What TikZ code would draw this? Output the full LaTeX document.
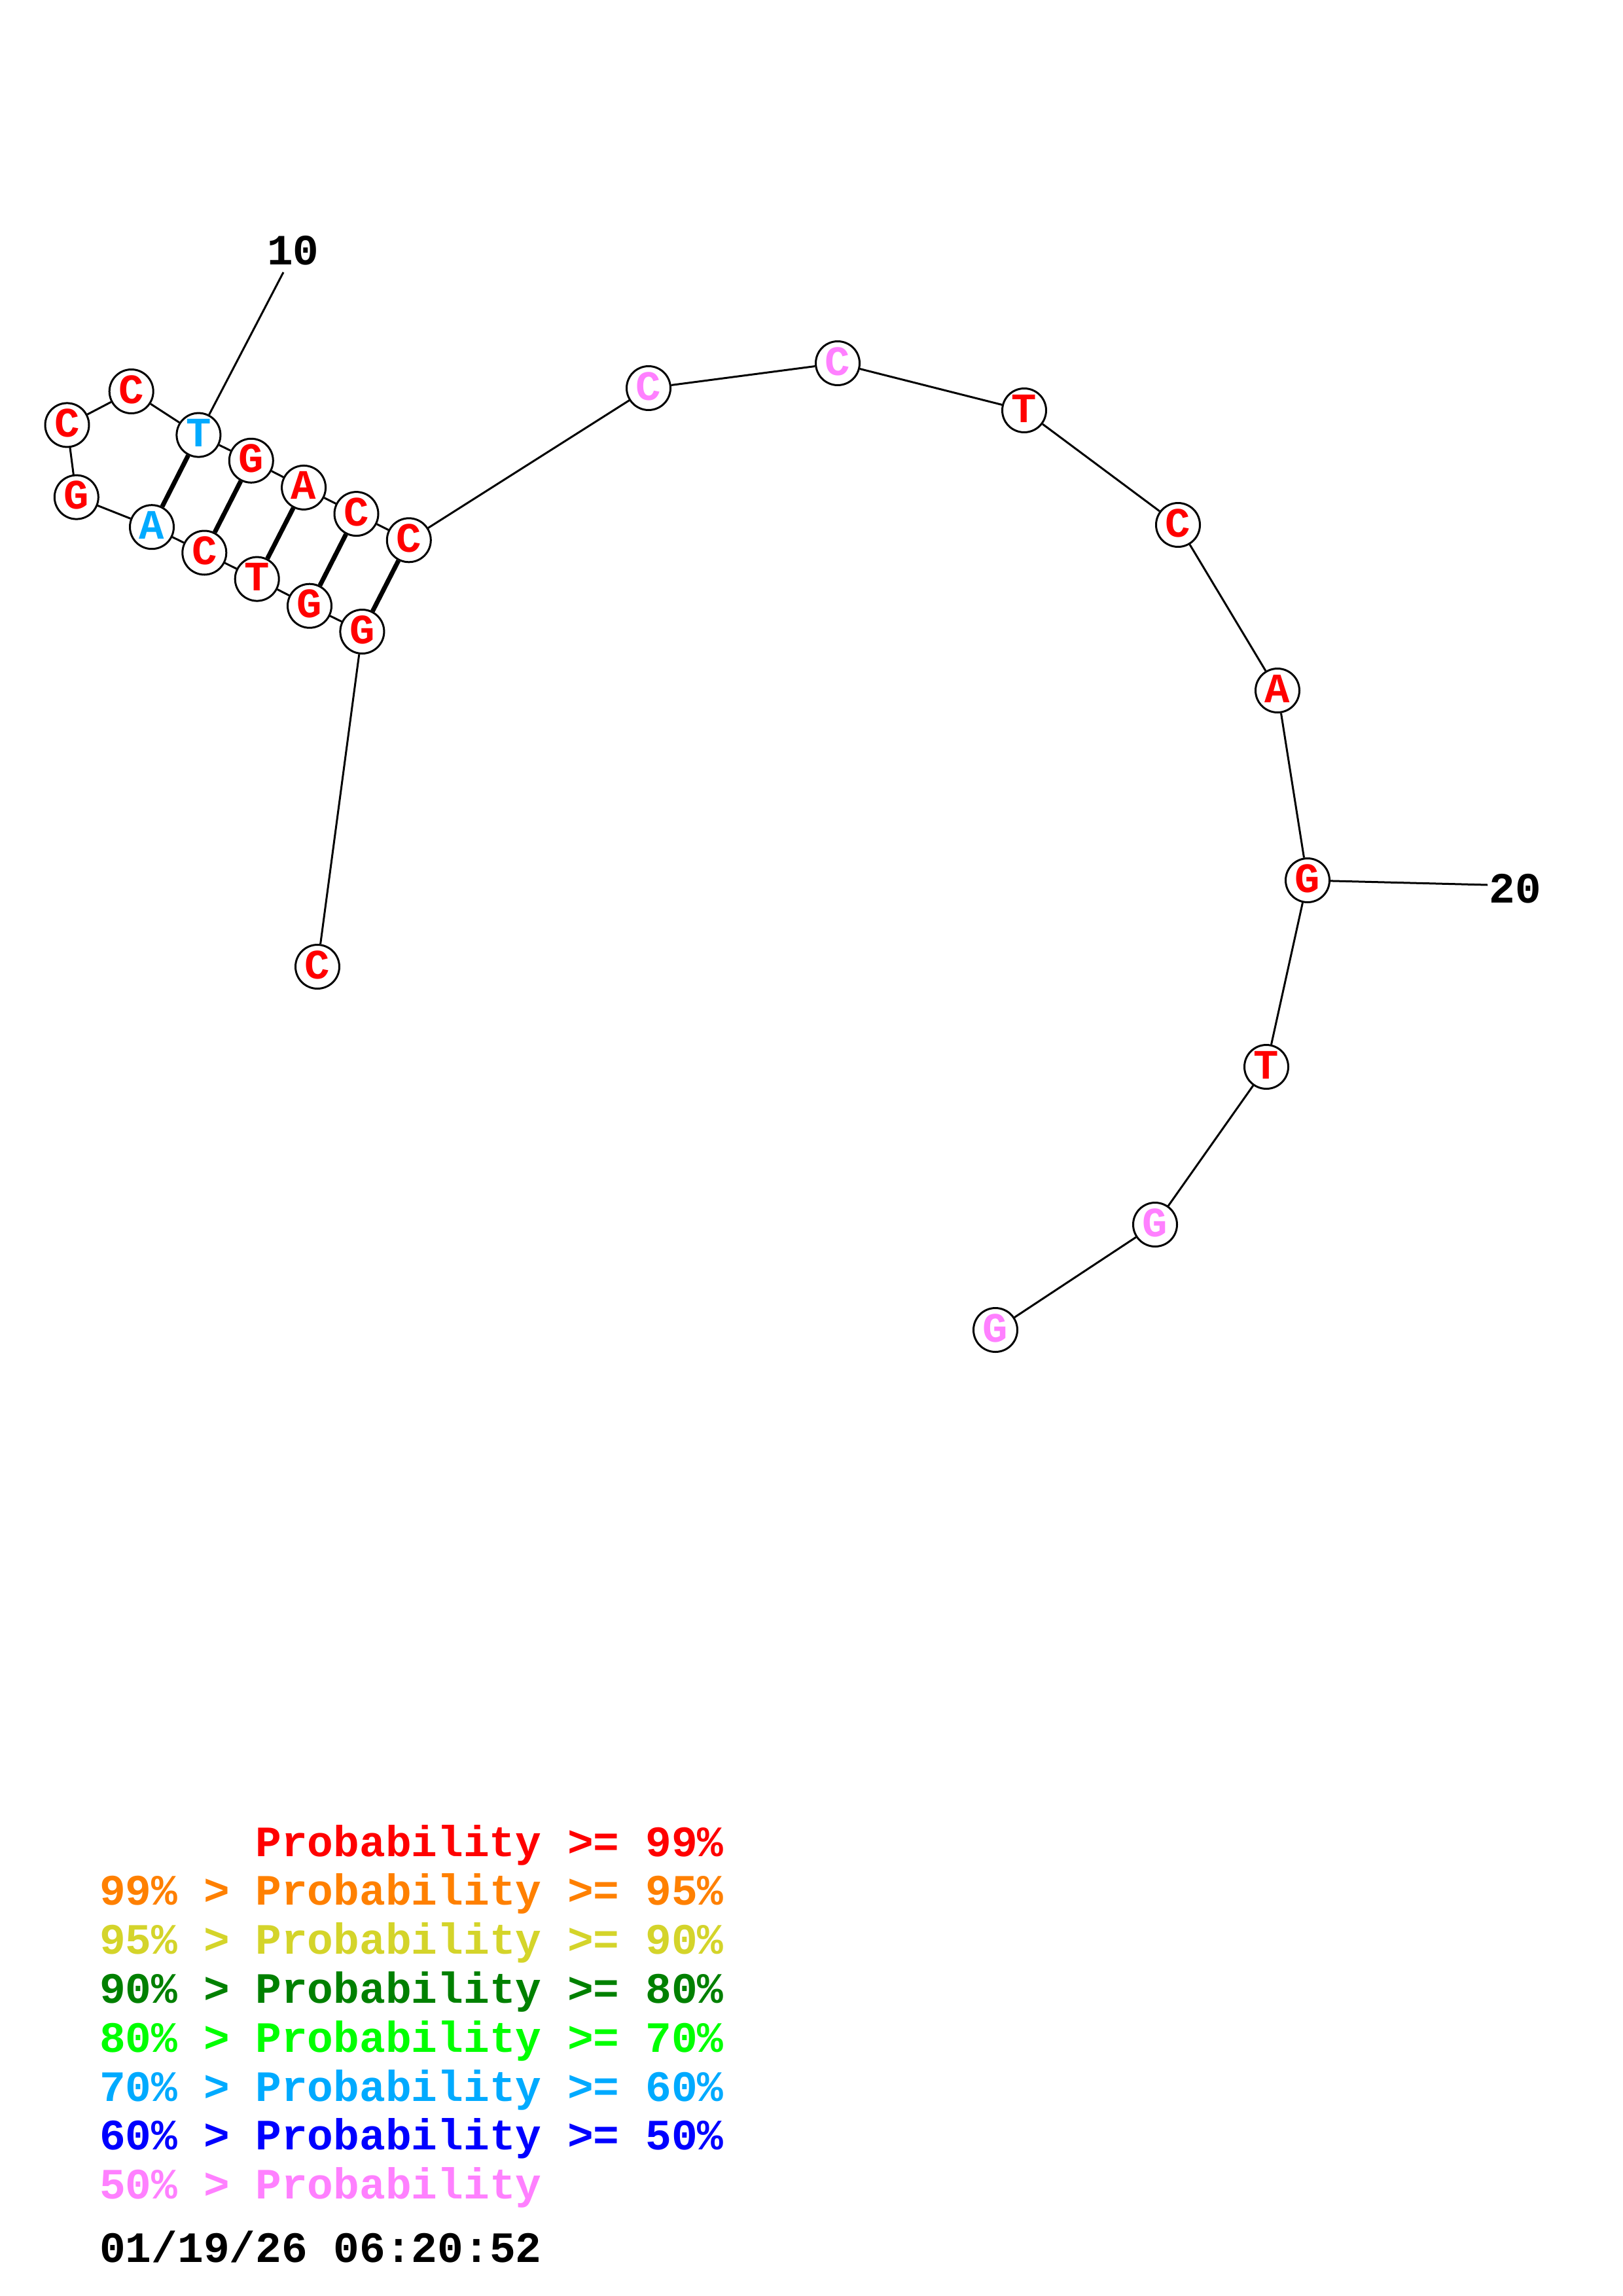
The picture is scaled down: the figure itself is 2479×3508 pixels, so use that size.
\documentclass[tikz,border=0pt]{standalone}
\usepackage{fontspec}
\newfontfamily\cour{Liberation Mono}
\definecolor{pr99}{RGB}{255,0,0}
\definecolor{pr95}{RGB}{255,128,0}
\definecolor{pr90}{RGB}{212,212,42}
\definecolor{pr80}{RGB}{0,128,0}
\definecolor{pr70}{RGB}{0,255,0}
\definecolor{pr60}{RGB}{0,170,255}
\definecolor{pr50}{RGB}{0,0,255}
\definecolor{prlow}{RGB}{255,128,255}
\tikzset{
  base/.style={circle, draw=black, line width=3pt, fill=white, minimum size=67pt,
    inner sep=0pt, font=\cour\bfseries\fontsize{64}{64}\selectfont,
    text height=36pt, text depth=0pt},
  bb/.style={line width=3pt},
  pair/.style={line width=7pt},
  lbl/.style={font=\cour\bfseries\fontsize{66}{66}\selectfont, inner sep=0pt, anchor=base},
  leg/.style={font=\cour\bfseries\fontsize{66.2}{66.2}\selectfont, inner sep=0pt, anchor=base west}
}
\begin{document}
\begin{tikzpicture}[x=1pt,y=-1pt]
\useasboundingbox[fill=white] (0,0) rectangle (2479,3508);
% nucleotides
\node[base, text=pr99]  (n1)  at (485,1477) {C};
\node[base, text=pr99]  (n2)  at (553.4,965) {G};
\node[base, text=pr99]  (n3)  at (473,925.7) {G};
\node[base, text=pr99]  (n4)  at (392.7,884.6) {T};
\node[base, text=pr99]  (n5)  at (312.3,844.5) {C};
\node[base, text=pr60]  (n6)  at (232,805.2) {A};
\node[base, text=pr99]  (n7)  at (116.8,759.6) {G};
\node[base, text=pr99]  (n8)  at (102.5,649.4) {C};
\node[base, text=pr99]  (n9)  at (200.7,598) {C};
\node[base, text=pr60]  (n10) at (303.4,664.6) {T};
\node[base, text=pr99]  (n11) at (383.8,703.8) {G};
\node[base, text=pr99]  (n12) at (464.1,744.9) {A};
\node[base, text=pr99]  (n13) at (544.5,785.1) {C};
\node[base, text=pr99]  (n14) at (624.8,825.3) {C};
\node[base, text=prlow] (n15) at (991,593) {C};
\node[base, text=prlow] (n16) at (1280,555) {C};
\node[base, text=pr99]  (n17) at (1565,627) {T};
\node[base, text=pr99]  (n18) at (1800,802) {C};
\node[base, text=pr99]  (n19) at (1952,1055) {A};
\node[base, text=pr99]  (n20) at (1998,1345) {G};
\node[base, text=pr99]  (n21) at (1935,1630) {T};
\node[base, text=prlow] (n22) at (1765,1871) {G};
\node[base, text=prlow] (n23) at (1521,2032) {G};
% backbone
\foreach \a/\b in {1/2,2/3,3/4,4/5,5/6,6/7,7/8,8/9,9/10,10/11,11/12,12/13,13/14,14/15,15/16,16/17,17/18,18/19,19/20,20/21,21/22,22/23}
  \draw[bb] (n\a) -- (n\b);
% base pairs
\draw[pair] (n10) -- (n6);
\draw[pair] (n11) -- (n5);
\draw[pair] (n12) -- (n4);
\draw[pair] (n13) -- (n3);
\draw[pair] (n14) -- (n2);
% numbering
\coordinate (e10) at (433,416);
\coordinate (e20) at (2273,1352);
\draw[bb] (n10) -- (e10);
\draw[bb] (n20) -- (e20);
\node[lbl] (t10) at (448,404) {10};
\node[lbl] (t20) at (2315,1379) {20};
% legend
\node[leg, text=pr99]  (g1) at (390.3,2836) {Probability >= 99\%};
\node[leg, text=pr95]  (g2) at (152,2910.8) {99\% > Probability >= 95\%};
\node[leg, text=pr90]  (g3) at (152,2985.6) {95\% > Probability >= 90\%};
\node[leg, text=pr80]  (g4) at (152,3060.4) {90\% > Probability >= 80\%};
\node[leg, text=pr70]  (g5) at (152,3135.2) {80\% > Probability >= 70\%};
\node[leg, text=pr60]  (g6) at (152,3210.0) {70\% > Probability >= 60\%};
\node[leg, text=pr50]  (g7) at (152,3284.8) {60\% > Probability >= 50\%};
\node[leg, text=prlow] (g8) at (152,3359.6) {50\% > Probability};
\node[leg, text=black] (dt) at (152,3456) {01/19/26 06:20:52};
\end{tikzpicture}
\end{document}
